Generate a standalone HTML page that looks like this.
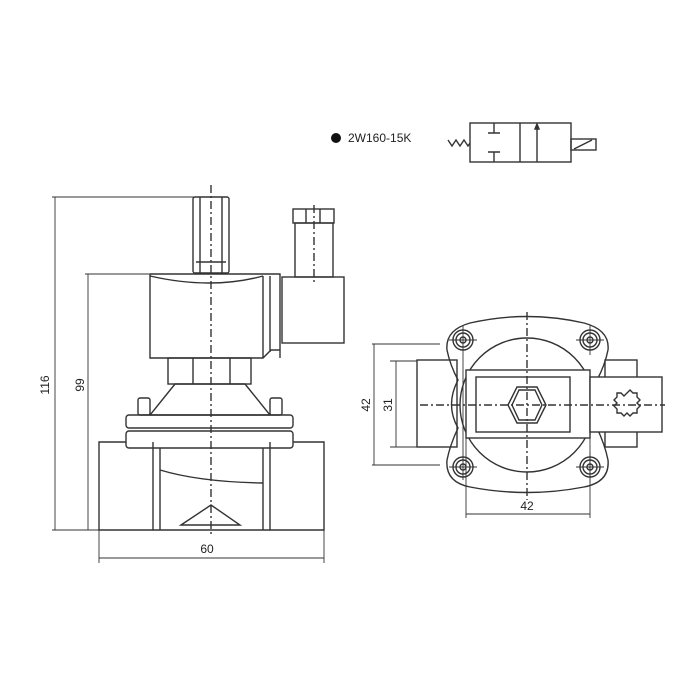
<!DOCTYPE html>
<html><head><meta charset="utf-8"><style>body{margin:0;background:#fff}svg{display:block}</style></head><body>
<svg width="700" height="700" viewBox="0 0 700 700" xmlns="http://www.w3.org/2000/svg" font-family="Liberation Sans, sans-serif">
<g fill="none" stroke="#333" stroke-width="1.4">
<!-- symbol -->
<rect x="470" y="123" width="101" height="39"/>
<line x1="520" y1="123" x2="520" y2="162"/>
<line x1="537" y1="162" x2="537" y2="126"/>
<path d="M537 124 l-2 5 h4z" fill="#333"/>
<rect x="571" y="139" width="25" height="11"/>
<line x1="574" y1="149" x2="592" y2="140"/>
<path d="M448 140 l4 6 l4 -6 l4 6 l4 -6 l4 6 l2 -3"/>
<path d="M494 123 v10 M488 133 h12 M494 162 v-10 M488 152 h12"/>
<!-- left view -->
<line x1="52" y1="197" x2="228" y2="197" stroke-width="0.9"/>
<line x1="55" y1="197" x2="55" y2="530" stroke-width="0.9"/>
<line x1="85" y1="274" x2="150" y2="274" stroke-width="0.9"/>
<line x1="88" y1="274" x2="88" y2="530" stroke-width="0.9"/>
<line x1="52" y1="530" x2="99" y2="530" stroke-width="0.9"/>
<rect x="193" y="197" width="36" height="76" rx="2"/>
<path d="M200 197 v76 M222 197 v76 M196 262 h30"/>
<path d="M150 276 Q211 290 263 276 M150 274 h130 v84 M150 274 v84 h113 l8 -8 h9 M263 276 v82 M270 276 v76"/>
<rect x="282" y="277" width="62" height="66"/>
<rect x="295" y="223" width="38" height="54"/>
<rect x="293" y="209" width="41" height="14"/>
<path d="M306 209 v14 M320 209 v14"/>
<rect x="168" y="358" width="83" height="26"/>
<path d="M193 358 v26 M230 358 v26"/>
<path d="M175 384 h70 l25 31 h-120z"/>
<rect x="138" y="398" width="12" height="17" rx="2"/>
<rect x="270" y="398" width="12" height="17" rx="2"/>
<rect x="126" y="415" width="167" height="13" rx="3"/>
<rect x="126" y="431" width="167" height="17" rx="3"/>
<path d="M126 442 h-27 v88 h54 v-88 M293 442 h31 v88 h-54 v-88"/>
<path d="M160 448 v82 M263 448 v82 M153 530 h117"/>
<path d="M160 470 Q200 482 263 483"/>
<path d="M181 525 L211 505 L240 525 Z"/>
<line x1="211" y1="185" x2="211" y2="535" stroke-dasharray="8,3,2,3"/>
<line x1="314" y1="205" x2="314" y2="285" stroke-dasharray="8,3,2,3"/>
<line x1="99" y1="530" x2="99" y2="563" stroke-width="0.9"/>
<line x1="324" y1="530" x2="324" y2="563" stroke-width="0.9"/>
<line x1="99" y1="558" x2="324" y2="558" stroke-width="0.9"/>
<!-- right view -->
<path d="M470 323 Q527 310 584 323 Q610 330 608 350 Q605 365 597 380 Q610 405 597 428 Q605 445 608 460 Q610 482 584 487 Q527 498 470 487 Q445 482 447 460 Q450 445 458 428 Q445 405 458 380 Q450 365 447 350 Q445 330 470 323Z"/>
<circle cx="527" cy="405" r="67"/>
<g>
<circle cx="463" cy="340" r="10"/><circle cx="463" cy="340" r="7"/><circle cx="463" cy="340" r="3"/>
<circle cx="590" cy="340" r="10"/><circle cx="590" cy="340" r="7"/><circle cx="590" cy="340" r="3"/>
<circle cx="463" cy="467" r="10"/><circle cx="463" cy="467" r="7"/><circle cx="463" cy="467" r="3"/>
<circle cx="590" cy="467" r="10"/><circle cx="590" cy="467" r="7"/><circle cx="590" cy="467" r="3"/>
</g>
<rect x="417" y="360" width="40" height="87"/>
<rect x="605" y="360" width="32" height="87"/>
<rect x="466" y="370" width="124" height="68" fill="#fff"/>
<rect x="476" y="377" width="94" height="55"/>
<path d="M517 387 h20 l9 18 l-9 18 h-20 l-9 -18z"/>
<path d="M519 390 h16 l7 15 l-7 15 h-16 l-7 -15z"/>
<rect x="590" y="377" width="72" height="55" fill="#fff"/>
<path d="M627 393 l3 -3 l3 3 l4 0 l0 4 l3 3 l-3 3 l3 3 l-3 3 l0 4 l-4 0 l-3 3 l-3 -3 l-3 3 l-3 -3 l-4 0 l0 -4 l-3 -3 l3 -3 l-3 -3 l3 -3 l0 -4 l4 0 l3 3z"/>
<line x1="527" y1="312" x2="527" y2="500" stroke-dasharray="8,3,2,3"/>
<line x1="420" y1="405" x2="665" y2="405" stroke-dasharray="8,3,2,3"/>
<line x1="463" y1="325" x2="463" y2="480" stroke-width="0.9"/><line x1="449" y1="340" x2="477" y2="340" stroke-width="0.9"/>
<line x1="590" y1="325" x2="590" y2="355" stroke-width="0.9"/><line x1="576" y1="340" x2="604" y2="340" stroke-width="0.9"/>
<line x1="449" y1="467" x2="477" y2="467" stroke-width="0.9"/>
<line x1="590" y1="452" x2="590" y2="482" stroke-width="0.9"/><line x1="576" y1="467" x2="604" y2="467" stroke-width="0.9"/>
<path d="M372 344 h68 M372 465 h68 M374 344 v121 M390 361 h27 M390 447 h27 M396 361 v86" stroke-width="0.9"/>
<path d="M466 438 v80 M590 438 v80 M466 514 h124" stroke-width="0.9"/>
</g>
<circle cx="336" cy="138" r="5" fill="#111"/>
<g fill="#222" font-size="12">
<text x="348" y="142">2W160-15K</text>
<text x="207" y="553" text-anchor="middle">60</text>
<text x="527" y="510" text-anchor="middle">42</text>
<text transform="translate(49,385) rotate(-90)" text-anchor="middle">116</text>
<text transform="translate(84,385) rotate(-90)" text-anchor="middle">99</text>
<text transform="translate(370,405) rotate(-90)" text-anchor="middle">42</text>
<text transform="translate(392,405) rotate(-90)" text-anchor="middle">31</text>
</g>
</svg>
</body></html>
